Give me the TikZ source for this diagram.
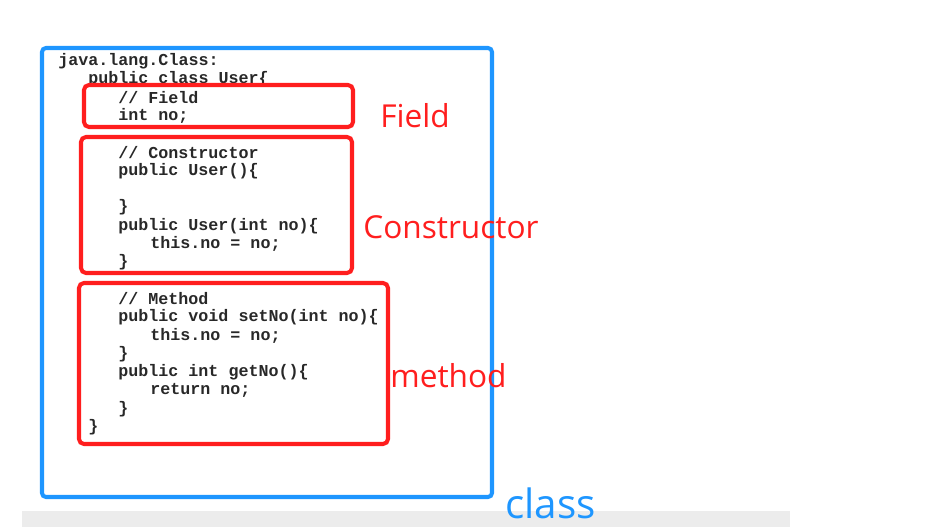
\documentclass[tikz,border=0pt]{standalone}
\usepackage{fontspec}
\setmainfont{Open Sans}
\setmonofont{Liberation Mono}
\definecolor{boxblue}{RGB}{30,150,255}
\definecolor{boxred}{RGB}{255,30,30}
\definecolor{codegray}{RGB}{40,40,40}
\definecolor{bandgray}{RGB}{236,236,236}

\begin{document}
\begin{tikzpicture}[
            x=0.02cm, y=-0.02cm,
            code/.style={anchor=west, inner sep=0pt, text=codegray, font=\ttfamily\bfseries\fontsize{9.5}{10}\selectfont},
            tag/.style={anchor=base west, inner sep=0pt, text=boxred, font=\fontsize{18}{20}\selectfont},
            redbox/.style={draw=boxred, line width=2.3pt, rounded corners=0.1cm},
            bluebox/.style={draw=boxblue, line width=2.3pt, rounded corners=0.08cm}
        ]
            \useasboundingbox (0,0) rectangle (930,527);
            \fill[bandgray] (22,511) rectangle (790,527);

            % Class frame
            \draw[bluebox] (42,48) rectangle (492,497);
            \node[anchor=base west, inner sep=0pt, text=boxblue, font=\fontsize{23}{25}\selectfont] (classlbl) at (505,518) {class};

            % Code lines
            \node[code] (l1) at (58,61) {java.lang.Class:};
            \node[code] (l2) at (88,79) {public class User\{};
            \node[code] (l3) at (118,97.5) {// Field};
            \node[code] (l4) at (118,116) {int no;};
            \node[code] (l5) at (118,152.5) {// Constructor};
            \node[code] (l6) at (118,171) {public User()\{};
            \node[code] (l7) at (118,207.5) {\}};
            \node[code] (l8) at (118,226) {public User(int no)\{};
            \node[code] (l9) at (150,244) {this.no = no;};
            \node[code] (l10) at (118,262.5) {\}};
            \node[code] (l11) at (118,299) {// Method};
            \node[code] (l12) at (118,317) {public void setNo(int no)\{};
            \node[code] (l13) at (150,335.5) {this.no = no;};
            \node[code] (l14) at (118,354) {\}};
            \node[code] (l15) at (118,372) {public int getNo()\{};
            \node[code] (l16) at (150,390.5) {return no;};
            \node[code] (l17) at (118,409) {\}};
            \node[code] (l18) at (88,427) {\}};

            % Member frames
            \draw[redbox] (84,85) rectangle (353,127);
            \draw[redbox] (81,137) rectangle (352,273);
            \draw[redbox] (79,283) rectangle (388,444);

            % Labels
            \node[tag] (fieldlbl) at (380,128) {Field};
            \node[tag] (ctorlbl) at (363,238) {Constructor};
            \node[tag] (methodlbl) at (390,387) {method};
        \end{tikzpicture}
\end{document}
